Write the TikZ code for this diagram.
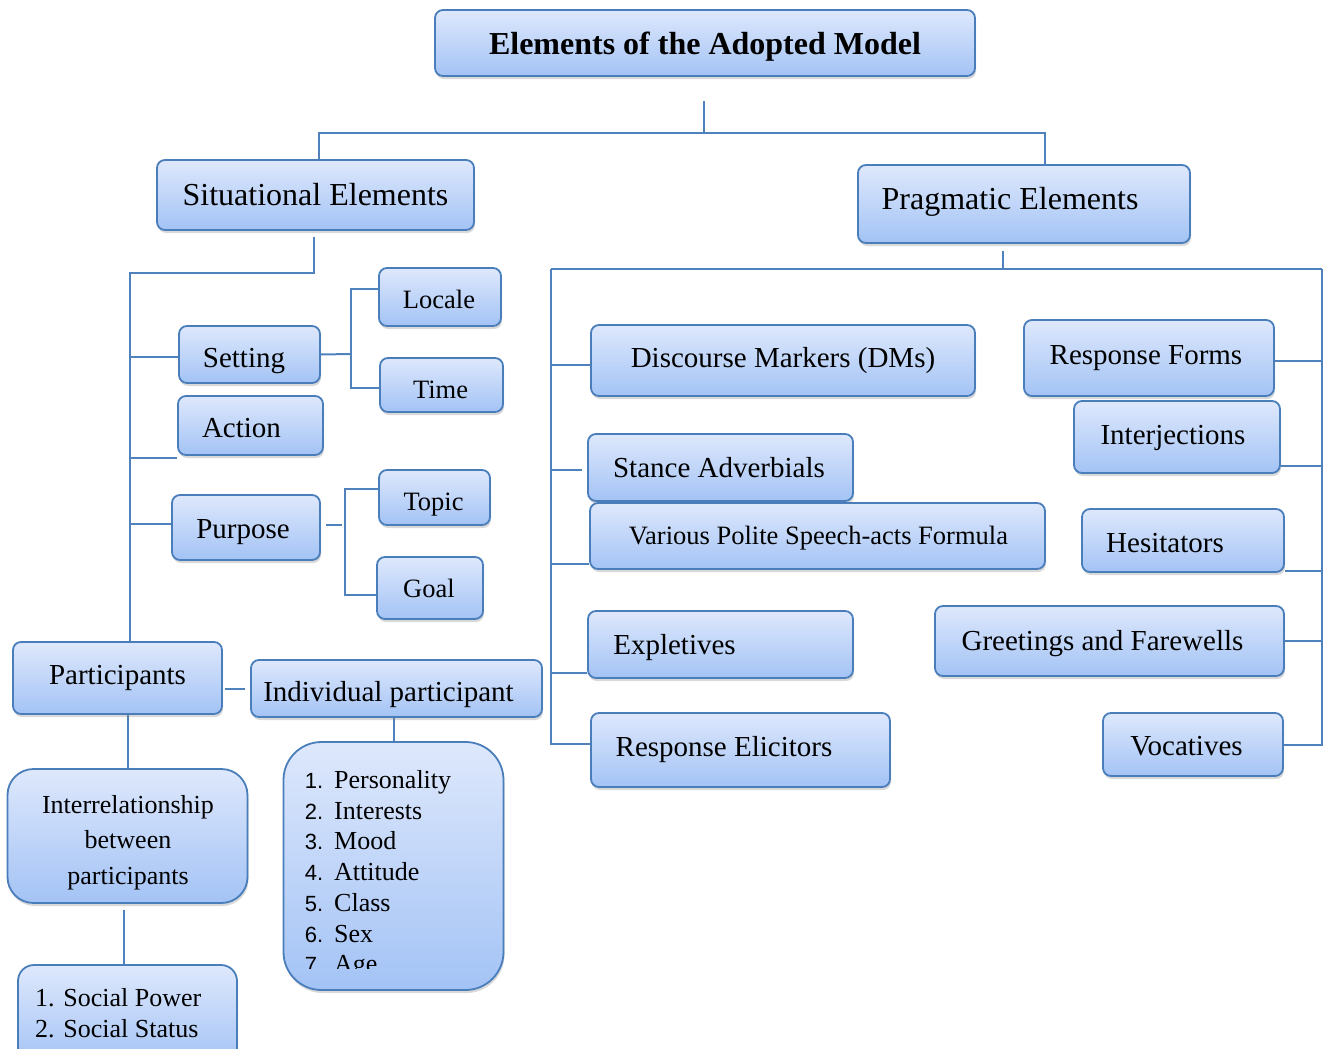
\documentclass[tikz,border=0pt]{standalone}
\usepackage{fontspec}
\setmainfont{Liberation Serif}
\newfontfamily\numfont{Liberation Sans}
\usetikzlibrary{shadows,calc}
\pgfdeclarelayer{background}
\pgfsetlayers{background,main}
\newcommand\fsz[1]{\fontsize{#1}{#1}\selectfont}
\definecolor{edge}{RGB}{74,126,187}
\definecolor{ftop}{RGB}{222,232,252}
\definecolor{fbot}{RGB}{163,195,245}
\definecolor{lnk}{RGB}{79,129,189}
\tikzset{
  box/.style={draw=edge, line width=1.8pt, rounded corners=8pt, top color=ftop, bottom color=fbot,
    inner sep=0pt, drop shadow={shadow xshift=1pt, shadow yshift=-3pt, opacity=0.3}},
  conn/.style={draw=lnk, line width=2pt},
  lab/.style={inner sep=0pt, text height=22pt, text depth=2pt},
  f32/.style={lab, font=\fsz{32}},
  f32b/.style={lab, font=\fsz{32}\bfseries},
  f29/.style={lab, font=\fsz{29}},
  f26/.style={lab, font=\fsz{26.5}},
  li/.style={anchor=base west, inner sep=0pt, font=\fsz{26}}
}
% name, x1, y1, x2, y2, dx, dy, text style, text
\newcommand\bx[9]{%
  \node[box, minimum width={(#4-#2)*1pt}, minimum height={(#5-#3)*1pt}] (#1) at ({(#2+#4)/2},{(#3+#5)/2}) {};
  \node[#8] (#1-t) at ([shift={(#6,#7)}]#1.center) {#9};}
\begin{document}
\begin{tikzpicture}[x=1pt,y=-1pt]
\useasboundingbox (0,0) rectangle (1325,1049);
\clip (0,0) rectangle (1325,1049);

% top
\bx{title}{435}{10}{975}{76}{0}{2}{f32b}{Elements of the Adopted Model}
\bx{sit}{157}{160}{474}{230}{0}{0}{f32}{Situational Elements}
\bx{prag}{858}{165}{1190}{243}{-14}{-5}{f32}{Pragmatic Elements}

% situational side
\bx{setting}{179}{326}{320}{383}{-5.5}{2.5}{f29}{Setting}
\bx{action}{178}{396}{323}{455}{-9}{1.5}{f29}{Action}
\bx{purpose}{172}{495}{320}{560}{-3}{0.5}{f29}{Purpose}
\bx{locale}{379}{268}{501}{326}{-1}{1}{f26}{Locale}
\bx{time}{380}{358}{503}{412}{-1}{3}{f26}{Time}
\bx{topic}{379}{470}{490}{525}{-1}{2.5}{f26}{Topic}
\bx{goal}{377}{557}{483}{619}{-1}{-1}{f26}{Goal}
\bx{part}{13}{642}{222}{714}{0}{-4}{f29}{Participants}
\bx{indiv}{251}{660}{542}{717}{-8}{2.5}{f29}{Individual participant}

\node[box, rounded corners=26pt, minimum width=240pt, minimum height=134pt] (interrel) at (127.5,836) {};
\node[inner sep=0pt, font=\fontsize{26}{35.5}\selectfont, align=center] (interrel-t) at (128,842.5)
  {Interrelationship\\between\\participants};

\node[box, rounded corners=16pt, minimum width=219pt, minimum height=100pt] (social) at (127.5,1015) {};
\node[li] (sp1) at (35,1006) {1. Social Power};
\node[li] (sp2) at (35,1037) {2. Social Status};

\node[box, rounded corners=38pt, minimum width=220pt, minimum height=248pt] (list) at (393.5,866) {};
\begin{scope}
  \clip (280,740) rectangle (510,968);
  \foreach \t [count=\i] in {Personality,Interests,Mood,Attitude,Class,Sex,Age}
    \node[li] (li\i) at (304.6,{788.5+30.7*(\i-1)}) {\makebox[29.4pt][l]{\numfont\fsz{22}\i.}\t};
\end{scope}

% pragmatic side
\bx{dms}{591}{325}{975}{396}{0}{-3.5}{f29}{Discourse Markers (DMs)}
\bx{rf}{1024}{320}{1274}{396}{-3}{-4}{f29}{Response Forms}
\bx{interj}{1074}{401}{1280}{473}{-4}{-3}{f29}{Interjections}
\bx{stance}{588}{434}{853}{501}{-1.5}{0}{f29}{Stance Adverbials}
\bx{various}{590}{503}{1045}{569}{1}{-2}{f26}{Various Polite Speech-acts Formula}
\bx{hes}{1082}{509}{1284}{572}{-18}{1.5}{f29}{Hesitators}
\bx{expl}{588}{611}{853}{678}{-46}{0}{f29}{Expletives}
\bx{greet}{935}{606}{1284}{676}{-7}{-1}{f29}{Greetings and Farewells}
\bx{relic}{591}{713}{890}{787}{-16.5}{-4}{f29}{Response Elicitors}
\bx{voc}{1103}{713}{1283}{776}{-6.5}{1}{f29}{Vocatives}

\begin{pgfonlayer}{background}
  % top hub
  \coordinate (hub) at (704,133);
  \draw[conn] ([xshift=-1pt,yshift=-24pt]title.south) -- (hub);
  \draw[conn] ([xshift=3.5pt]sit.north) |- (hub) -| ([xshift=21pt]prag.north);

  % situational trunk
  \coordinate (sv) at (130,273);
  \draw[conn] ([xshift=-1.5pt,yshift=-6pt]sit.south) |- (sv) -- (sv |- part.north);
  \draw[conn] ([yshift=-2.5pt]setting.west) -| (sv);
  \draw[conn] ([yshift=-2pt]action.south west) -| (sv);
  \draw[conn] ([yshift=3.5pt]purpose.west) -| (sv);

  \coordinate (sj) at (351,354);
  \draw[conn] (setting.east) -- (sj);
  \draw[conn] ([yshift=8pt]locale.west) -| (sj) |- ([yshift=-3pt]time.west);

  \coordinate (pj) at (345,525);
  \draw[conn] ([xshift=5pt,yshift=2.5pt]purpose.east) -- ([xshift=-3pt]pj);
  \draw[conn] ([yshift=8.5pt]topic.west) -| (pj) |- ([yshift=-7pt]goal.west);

  \draw[conn] ([xshift=2pt,yshift=-11pt]part.east) -- ([xshift=-5pt,yshift=-0.5pt]indiv.west);
  \draw[conn] (interrel.north |- part.south) -- (interrel.north);
  \draw[conn] ([xshift=-3.5pt,yshift=-6pt]interrel.south) -- ([xshift=-3.5pt]social.north);
  \draw[conn] (list.north |- indiv.south) -- (list.north);

  % pragmatic trunk
  \coordinate (pl) at (551,269);
  \coordinate (pr) at (1322,269);
  \draw[conn] ([xshift=-21.5pt,yshift=-7pt]prag.south) |- (pl);
  \draw[conn] ([xshift=-21.5pt,yshift=-7pt]prag.south) |- (pr);
  \draw[conn] (pl) |- ([yshift=6pt]relic.west);
  \draw[conn] ([yshift=-4.5pt]dms.west) -| (pl);
  \draw[conn] ([xshift=-5pt,yshift=-2pt]stance.west) -| (pl);
  \draw[conn] ([yshift=-28pt]various.west) -| (pl);
  \draw[conn] ([yshift=-28.5pt]expl.west) -| (pl);
  \draw[conn] (pr) |- (voc.east);
  \draw[conn] ([yshift=-3pt]rf.east) -| (pr);
  \draw[conn] ([yshift=-29pt]interj.east) -| (pr);
  \draw[conn] ([yshift=-30pt]hes.east) -| (pr);
  \draw[conn] (greet.east) -| (pr);
\end{pgfonlayer}
\end{tikzpicture}
\end{document}
